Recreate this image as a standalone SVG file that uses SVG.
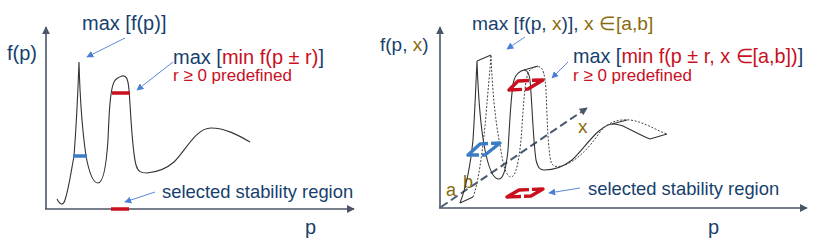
<svg xmlns="http://www.w3.org/2000/svg" width="837" height="250" viewBox="0 0 837 250">
<defs>
<style>
text{font-family:"Liberation Sans",Arial,sans-serif}
.b{fill:#173f6e}
.r{fill:#c8101e}
.o{fill:#8a6a0c}
.ax{stroke:#4a5567;stroke-width:1.6;fill:none}
.ptr{stroke:#5b8ad8;stroke-width:1;fill:none}
.crv{stroke:#333;stroke-width:1.1;fill:none}
.dot{stroke:#444;stroke-width:1;fill:none;stroke-dasharray:2 1.6}
.redl{stroke:#c8101e;stroke-width:3.5;fill:none}
.bluel{stroke:#3b7dc4;stroke-width:3.5;fill:none}
.pr{stroke:#c8101e;stroke-width:3.4;fill:none;stroke-linejoin:round}
.pb{stroke:#3b7dc4;stroke-width:3.4;fill:none;stroke-linejoin:round}
</style>
<marker id="axh" viewBox="0 0 10 10" refX="9" refY="5" markerWidth="8" markerHeight="8" markerUnits="userSpaceOnUse" orient="auto"><path d="M0,0 L10,5 L0,10 z" fill="#4a5567"/></marker>
<marker id="ph" viewBox="0 0 10 10" refX="9" refY="5" markerWidth="7" markerHeight="7" markerUnits="userSpaceOnUse" orient="auto"><path d="M0,0 L10,5 L0,10 z" fill="#4a7fd6"/></marker>
</defs>
<rect width="837" height="250" fill="#fff"/>

<!-- left chart -->
<g id="left-axes">
<line class="ax" x1="46" y1="209" x2="46" y2="27" marker-end="url(#axh)"/>
<line class="ax" x1="45" y1="209" x2="354" y2="209" marker-end="url(#axh)"/>
<text class="b" x="7" y="60" font-size="20">f(p)</text>
<text class="b" x="305" y="234" font-size="20">p</text>
</g>
<g id="left-curve">
<path class="crv" d="M57,199 C60,205 63,206 65,200 C69,188 71,172 74,156 C76,130 78,90 79,62 C80,100 83,135 86,156 C89,172 93,183 98,183 C103,183 106,170 108,140 C109,115 110,90 114,82 C116,78 119,77 122,76 C126,75 128,78 129,90 C131,115 132,150 136,165 C138,172 141,173 147,173 C158,172 166,169 174,162 C186,150 196,128 211,128 C225,128 238,135 250,142"/>
<line class="bluel" x1="73" y1="156" x2="87" y2="156"/>
<line class="redl" x1="112" y1="93" x2="130" y2="93"/>
<line class="redl" x1="111" y1="209" x2="129" y2="209"/>
</g>
<g id="left-labels">
<text class="b" x="82" y="30" font-size="20">max [f(p)]</text>
<text x="173" y="64" font-size="20"><tspan class="b">max [</tspan><tspan class="r">min f(p ± r)</tspan><tspan class="b">]</tspan></text>
<text class="r" x="173" y="81" font-size="17">r ≥ 0 predefined</text>
<text class="b" x="162" y="198" font-size="18.4">selected stability region</text>
</g>

<!-- right chart -->
<g id="right-axes">
<line class="ax" x1="440" y1="208" x2="440" y2="27" marker-end="url(#axh)"/>
<line class="ax" x1="439" y1="208" x2="807" y2="208" marker-end="url(#axh)"/>
<line stroke="#4a5a72" stroke-width="2" stroke-dasharray="8 4" x1="441" y1="207" x2="587" y2="108" marker-end="url(#axh)"/>
<text x="380" y="51" font-size="19"><tspan class="b">f(p, </tspan><tspan class="o">x</tspan><tspan class="b">)</tspan></text>
<text class="b" x="708" y="234" font-size="20">p</text>
<text class="o" x="578" y="133" font-size="19">x</text>
<text class="o" x="446" y="196" font-size="18">a</text>
<text class="o" x="463" y="188" font-size="18">b</text>
</g>
<g id="right-surface">
<path class="crv" d="M460,203 C465,190 470,170 473,140 C475,110 476,80 477,61 C478,90 481,130 485,150 C488,165 492,178 498,179 C503,180 506,170 508,150 C510,120 511,90 514,80 C516,74 520,71 524,70 C527,70 529,72 530,80 C532,100 533,140 536,160 C538,168 540,170 544,170 C552,170 562,168 572,160 C585,148 598,126 612,124 C622,123 632,132 650,139"/>
<path class="dot" d="M473,197 C478,185 483,150 486,115 C488,90 490,70 491,55 C492,85 495,120 500,145 C503,165 506,177 511,177 C516,177 519,160 521,140 C523,115 524,85 528,73 C531,67 536,66 540,67 C543,68 545,75 546,90 C547,115 548,150 551,162 C553,167 556,167 562,166 C575,162 588,150 600,132 C608,122 618,119 630,120 C645,122 655,130 667,134"/>
<path class="crv" d="M460,203 L473,197 M477,61 L491,55 M524,70 L538,66 M612,124 L627,120 M650,139 L667,134"/>
<path class="pb" d="M488,143.5 L480,144 L468,155 L479,155 M491,143.4 L500,143 L485,155 L482,155"/>
<path class="pr" d="M529,80.5 L518,81 L509,90 L522,89.4 M532,80.3 L543,80 L528,89 L525,89.2"/>
<path class="pr" d="M529,189.6 L519,190 L507,197 L521,196.5 M532,189.4 L543,189 L531,196 L524,196.3"/>
</g>
<g id="right-labels">
<text x="472" y="30" font-size="19.2"><tspan class="b">max [f(p, </tspan><tspan class="o">x</tspan><tspan class="b">)], </tspan><tspan class="o">x ∈[a,b]</tspan></text>
<text x="573" y="63" font-size="19.8"><tspan class="b">max [</tspan><tspan class="r">min f(p ± r, x ∈[a,b])</tspan><tspan class="b">]</tspan></text>
<text class="r" x="573" y="81" font-size="17">r ≥ 0 predefined</text>
<text class="b" x="588" y="195" font-size="18.4">selected stability region</text>
</g>

<g id="connectors">
<line class="ptr" x1="125" y1="38" x2="87" y2="57" marker-end="url(#ph)"/>
<line class="ptr" x1="173" y1="62" x2="137" y2="90" marker-end="url(#ph)"/>
<line class="ptr" x1="155" y1="192" x2="125" y2="202" marker-end="url(#ph)"/>
<line class="ptr" x1="525" y1="37" x2="507" y2="49" marker-end="url(#ph)"/>
<line class="ptr" x1="568" y1="62" x2="552" y2="78" marker-end="url(#ph)"/>
<line class="ptr" x1="580" y1="188" x2="549" y2="193" marker-end="url(#ph)"/>
</g>
</svg>
